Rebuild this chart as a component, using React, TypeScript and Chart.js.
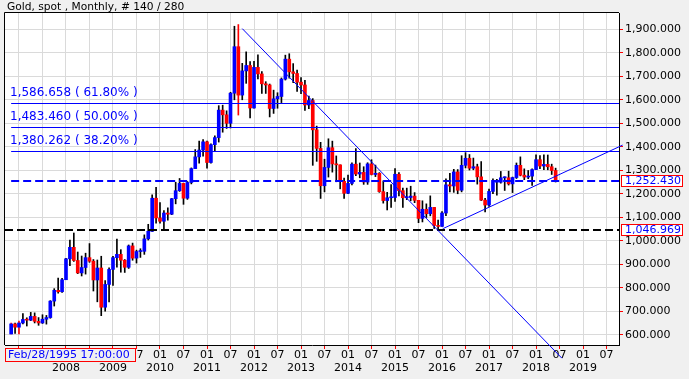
import React, { useEffect, useRef } from 'react';
import { Chart, registerables } from 'chart.js';

Chart.register(...registerables);

// First candle: Nov 2006. X value = months since Jan 2007.
const firstMonthOffset = -2;

const opens = [
  603, 646,
  632, 650, 665, 662, 678, 657, 650, 666, 673, 743, 789, 783,
  834, 923, 972, 916, 863, 886, 928, 913, 833, 884, 717, 814,
  878, 928, 942, 917, 887, 978, 926, 954, 955, 1008, 1040, 1181,
  1097, 1083, 1118, 1113, 1179, 1213, 1244, 1181, 1248, 1307, 1357, 1386,
  1421, 1333, 1409, 1439, 1556, 1536, 1500, 1628, 1826, 1620, 1723, 1746,
  1565, 1738, 1710, 1668, 1663, 1563, 1604, 1614, 1688, 1773, 1719, 1712,
  1675, 1663, 1578, 1597, 1472, 1393, 1234, 1312, 1396, 1327, 1323, 1253,
  1202, 1244, 1326, 1284, 1291, 1250, 1327, 1282, 1287, 1209, 1171, 1183,
  1184, 1283, 1213, 1183, 1184, 1190, 1172, 1095, 1134, 1115, 1142, 1065,
  1061, 1118, 1238, 1233, 1293, 1215, 1321, 1351, 1309, 1315, 1272, 1173,
  1152, 1210, 1249, 1249, 1268, 1268, 1242, 1269, 1321, 1279, 1271, 1275,
  1303, 1345, 1318, 1325, 1315, 1299,
];
const highs = [
  650, 650,
  658, 690, 672, 695, 693, 673, 685, 682, 745, 796, 841, 840,
  925, 1003, 1033, 952, 935, 947, 988, 920, 918, 934, 830, 885,
  934, 1007, 962, 920, 982, 990, 960, 966, 1025, 1070, 1195, 1227,
  1162, 1128, 1140, 1180, 1249, 1265, 1245, 1252, 1310, 1388, 1424, 1431,
  1424, 1412, 1447, 1575, 1577, 1553, 1632, 1913, 1920.25, 1755, 1804, 1763,
  1764, 1791, 1720, 1677, 1667, 1641, 1630, 1693, 1790, 1796, 1754, 1726,
  1694, 1683, 1616, 1605, 1488, 1419, 1347, 1434, 1424, 1361, 1323, 1267,
  1280, 1332, 1392, 1331, 1315, 1332, 1345, 1322, 1290, 1255, 1206, 1239,
  1307, 1290, 1224, 1224, 1232, 1205, 1172, 1170, 1157, 1191, 1142, 1088,
  1124, 1263, 1287, 1304, 1303, 1362, 1375, 1367, 1352, 1326, 1337, 1180,
  1220, 1264, 1261, 1295, 1272, 1296, 1271, 1331, 1357, 1306, 1299, 1306,
  1366, 1362, 1366, 1365, 1326, 1309,
];
const lows = [
  603, 605,
  603, 646, 637, 660, 650, 640, 648, 645, 670, 722, 777, 780,
  834, 894, 912, 860, 850, 858, 908, 786, 740, 681, 700, 740,
  810, 888, 866, 865, 882, 917, 905, 929, 942, 1003, 1040, 1075,
  1075, 1045, 1088, 1111, 1157, 1210, 1155, 1176, 1242, 1307, 1330, 1360,
  1309, 1330, 1381, 1420, 1462, 1478, 1480, 1600, 1535, 1600, 1670, 1523,
  1564, 1689, 1627, 1627, 1527, 1542, 1564, 1588, 1684, 1692, 1673, 1636,
  1626, 1555, 1562, 1321, 1338, 1180, 1208, 1271, 1292, 1251, 1221, 1180,
  1200, 1238, 1277, 1268, 1240, 1240, 1280, 1273, 1206, 1160, 1131, 1142,
  1167, 1191, 1142, 1175, 1170, 1162, 1077, 1080, 1099, 1106, 1052, 1046.969,
  1061, 1107, 1208, 1206, 1200, 1208, 1310, 1301, 1302, 1241, 1171, 1123,
  1146, 1200, 1194, 1245, 1214, 1237, 1205, 1265, 1276, 1260, 1264, 1236,
  1302, 1307, 1303, 1302, 1282, 1250,
];
const closes = [
  646, 632,
  650, 665, 662, 678, 657, 650, 666, 673, 743, 789, 783, 834,
  923, 972, 916, 863, 886, 928, 913, 833, 884, 717, 814, 878,
  928, 942, 917, 887, 978, 926, 954, 955, 1008, 1040, 1181, 1097,
  1083, 1118, 1113, 1179, 1213, 1244, 1181, 1248, 1307, 1357, 1386, 1421,
  1333, 1409, 1439, 1556, 1536, 1500, 1628, 1826, 1620, 1723, 1746, 1565,
  1738, 1710, 1668, 1663, 1563, 1604, 1614, 1688, 1773, 1719, 1712, 1675,
  1663, 1578, 1597, 1472, 1393, 1234, 1312, 1396, 1327, 1323, 1253, 1202,
  1244, 1326, 1284, 1291, 1250, 1327, 1282, 1287, 1209, 1171, 1183, 1184,
  1283, 1213, 1183, 1184, 1190, 1172, 1095, 1134, 1115, 1142, 1065, 1061,
  1118, 1238, 1233, 1293, 1215, 1321, 1351, 1309, 1315, 1272, 1173, 1152,
  1210, 1249, 1249, 1268, 1268, 1242, 1269, 1321, 1279, 1271, 1275, 1303,
  1345, 1318, 1325, 1315, 1299, 1252.43,
];

const firstTickYear = 2007;
const firstLabeledYear = 2008;
const fibLevels = [1586.658, 1483.46, 1380.262];
const fibPercents = ['61.80%', '50.00%', '38.20%'];
const lastPrice = 1252.43;
const supportPrice = 1046.969;
// trend lines: [monthValue, price] endpoints
const trendLines = [
  { from: [57.0, 1903], to: [138.6, 500] },
  { from: [108.3, 1052], to: [154.1, 1407] },
];
const titleText = 'Gold, spot , Monthly, # 140 / 280';
const cursorLabel = 'Feb/28/1995 17:00:00';

const FONT = "'DejaVu Sans'";
const BLUE = '#0000ff';
const RED = '#ff0000';

const fmt = (v: number) =>
  v.toLocaleString('en-US', { minimumFractionDigits: 3, maximumFractionDigits: 3 });

const overlayPlugin = {
  id: 'overlay',
  beforeDraw(chart: any) {
    const { ctx, chartArea: a, width, height } = chart;
    ctx.save();
    ctx.fillStyle = '#f0f0f0';
    ctx.fillRect(0, 0, width, height);
    ctx.fillStyle = '#ffffff';
    ctx.fillRect(a.left, a.top, a.right - a.left, a.bottom - a.top);
    ctx.restore();
  },
  afterDatasetsDraw(chart: any) {
    const { ctx, chartArea: a } = chart;
    const xs = chart.scales.x;
    const ys = chart.scales.y;
    const startX = xs.getPixelForValue(firstMonthOffset);
    ctx.save();
    // fib levels
    fibLevels.forEach((lv, i) => {
      const y = Math.round(ys.getPixelForValue(lv)) + 0.5;
      ctx.strokeStyle = BLUE;
      ctx.lineWidth = 1;
      ctx.setLineDash([]);
      ctx.beginPath();
      ctx.moveTo(startX, y);
      ctx.lineTo(a.right, y);
      ctx.stroke();
      ctx.fillStyle = BLUE;
      ctx.font = `12px ${FONT}`;
      ctx.textBaseline = 'alphabetic';
      ctx.textAlign = 'left';
      ctx.fillText(`${fmt(lv)} ( ${fibPercents[i]} )`, 10, y - 8);
    });
    // current price dashed
    {
      const y = Math.round(ys.getPixelForValue(lastPrice));
      ctx.strokeStyle = BLUE;
      ctx.lineWidth = 2;
      ctx.setLineDash([8, 4]);
      ctx.beginPath();
      ctx.moveTo(startX, y);
      ctx.lineTo(a.right, y);
      ctx.stroke();
    }
    {
      const y = Math.round(ys.getPixelForValue(supportPrice));
      ctx.strokeStyle = '#000000';
      ctx.lineWidth = 2;
      ctx.setLineDash([8, 4]);
      ctx.beginPath();
      ctx.moveTo(a.left, y);
      ctx.lineTo(a.right, y);
      ctx.stroke();
    }
    ctx.setLineDash([]);
    ctx.strokeStyle = BLUE;
    ctx.lineWidth = 1;
    trendLines.forEach((t) => {
      ctx.beginPath();
      ctx.moveTo(xs.getPixelForValue(t.from[0]), ys.getPixelForValue(t.from[1]));
      ctx.lineTo(xs.getPixelForValue(t.to[0]), ys.getPixelForValue(t.to[1]));
      ctx.stroke();
    });
    ctx.restore();
  },
  afterDraw(chart: any) {
    const { ctx, chartArea: a } = chart;
    const ys = chart.scales.y;
    ctx.save();
    // top & left border
    ctx.strokeStyle = '#000000';
    ctx.lineWidth = 1;
    ctx.beginPath();
    ctx.moveTo(a.left - 0.5, a.bottom);
    ctx.lineTo(a.left - 0.5, a.top - 0.5);
    ctx.lineTo(a.right, a.top - 0.5);
    ctx.stroke();
    // title
    ctx.fillStyle = '#000000';
    ctx.font = `10.67px ${FONT}`;
    ctx.textAlign = 'left';
    ctx.textBaseline = 'alphabetic';
    ctx.fillText(titleText, 7, 10);
    // price boxes
    [lastPrice, supportPrice].forEach((p) => {
      const y = Math.round(ys.getPixelForValue(p));
      ctx.fillStyle = '#ffffff';
      ctx.fillRect(621.5, y - 5.5, 61, 11);
      ctx.strokeStyle = RED;
      ctx.lineWidth = 1;
      ctx.strokeRect(621.5, y - 5.5, 61, 11);
      ctx.fillStyle = BLUE;
      ctx.font = `11px ${FONT}`;
      ctx.textBaseline = 'middle';
      ctx.fillText(fmt(p), 625, y + 0.5);
    });
    // cursor label
    ctx.fillStyle = '#f0f0f0';
    ctx.fillRect(5.5, 348.5, 130, 13);
    ctx.strokeStyle = RED;
    ctx.strokeRect(5.5, 348.5, 130, 13);
    ctx.fillStyle = BLUE;
    ctx.font = `11px ${FONT}`;
    ctx.textBaseline = 'middle';
    ctx.fillText(cursorLabel, 8, 355.5);
    ctx.restore();
  },
};

export default function App() {
  const ref = useRef<HTMLCanvasElement | null>(null);
  useEffect(() => {
    if (!ref.current) return;
    const maxHigh = Math.max(...highs);
    const minLow = Math.min(...lows);
    const xVals = opens.map((_, i) => firstMonthOffset + i);
    const chart = new Chart(ref.current, {
      type: 'bar',
      data: {
        datasets: [
          {
            label: 'bodies',
            data: opens.map((o, i) => ({ x: xVals[i], y: [o, closes[i]] })) as any,
            backgroundColor: opens.map((o, i) => (closes[i] >= o ? BLUE : RED)),
            barThickness: 3,
            minBarLength: 1,
            grouped: false,
            order: 1,
            borderWidth: 0,
          } as any,
          {
            label: 'wicks',
            data: lows.map((l, i) => ({ x: xVals[i], y: [l, highs[i]] })) as any,
            backgroundColor: lows.map((l, i) =>
              highs[i] === maxHigh || l === minLow ? RED : '#000000'
            ),
            barThickness: 1,
            grouped: false,
            order: 2,
            borderWidth: 0,
          } as any,
        ],
      },
      options: {
        responsive: false,
        animation: false,
        layout: { padding: { left: 5, top: 13, right: 0, bottom: 0 } },
        plugins: { legend: { display: false }, tooltip: { enabled: false } },
        scales: {
          x: {
            type: 'linear',
            min: -3.57,
            max: 153.18,
            offset: false,
            grid: { offset: false, color: '#dadada', tickColor: RED, tickLength: 4, lineWidth: 1 },
            border: { color: '#000000', width: 1 },
            ticks: {
              stepSize: 6,
              includeBounds: false,
              autoSkip: false,
              maxRotation: 0,
              minRotation: 0,
              padding: 0,
              color: '#000000',
              font: { family: FONT, size: 11, lineHeight: '13px' } as any,
              callback: (v: any) => {
                const n = Number(v);
                if (n % 12 === 0) {
                  const yr = firstTickYear + n / 12;
                  return yr >= firstLabeledYear ? ['01', String(yr)] : '01';
                }
                return '07';
              },
            },
            afterFit: (s: any) => {
              s.height = 34;
            },
          } as any,
          y: {
            position: 'right',
            min: 556.2,
            max: 1969.4,
            grid: { color: '#dadada', tickColor: RED, tickLength: 4, lineWidth: 1 },
            border: { color: '#000000', width: 1 },
            ticks: {
              stepSize: 100,
              includeBounds: false,
              padding: 2,
              color: '#000000',
              font: { family: FONT, size: 11 },
              callback: (v: any) => fmt(Number(v)),
            },
            afterFit: (s: any) => {
              s.width = 70;
            },
          } as any,
        },
      },
      plugins: [overlayPlugin],
    });
    return () => chart.destroy();
  }, []);
  return (
    <div style={{ position: 'fixed', left: 0, top: 0, width: 689, height: 379 }}>
      <canvas ref={ref} width={689} height={379} style={{ display: 'block' }} />
    </div>
  );
}
